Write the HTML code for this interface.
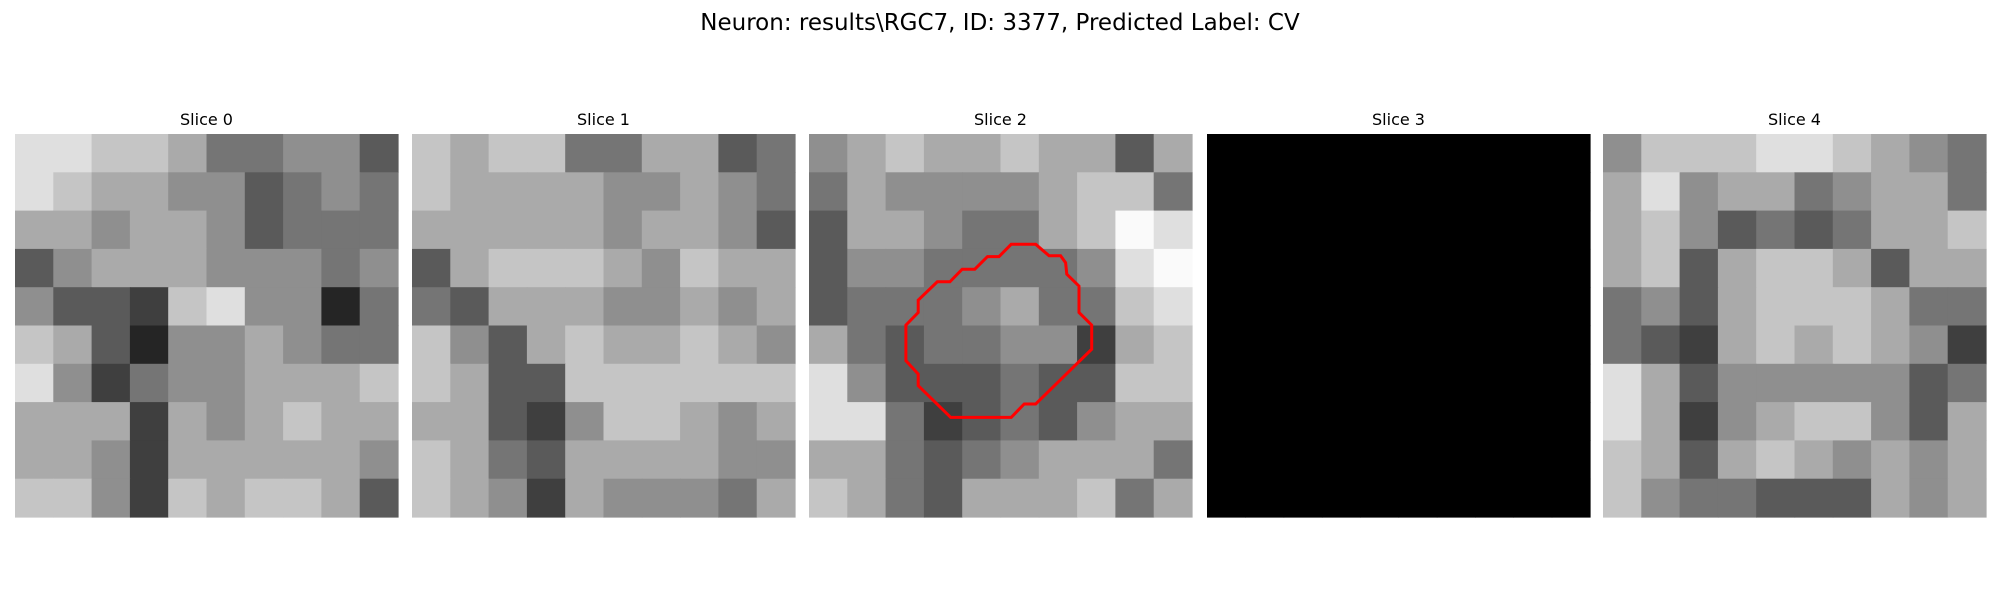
<!DOCTYPE html>
<html><head><meta charset="utf-8"><style>
body{margin:0;background:#fff;width:2000px;height:600px;overflow:hidden;font-family:"Liberation Sans","DejaVu Sans",sans-serif}
</style></head><body>
<svg id="fig" width="2000" height="600" xmlns="http://www.w3.org/2000/svg">
<text x="1000" y="30" text-anchor="middle" font-size="23" font-family="DejaVu Sans, Liberation Sans, sans-serif" fill="#000">Neuron: results\RGC7, ID: 3377, Predicted Label: CV</text>
</svg>
<script>
const sliceTitles = ["Slice 0","Slice 1","Slice 2","Slice 3","Slice 4"];
const slice0 = [
[8,8,7,7,6,4,4,5,5,3],[8,7,6,6,5,5,3,4,5,4],[6,6,5,6,6,5,3,4,4,4],[3,5,6,6,6,5,5,5,4,5],[5,3,3,2,7,8,5,5,1,4],
[7,6,3,1,5,5,6,5,4,4],[8,5,2,4,5,5,6,6,6,7],[6,6,6,2,6,5,6,7,6,6],[6,6,5,2,6,6,6,6,6,5],[7,7,5,2,7,6,7,7,6,3]];
const slice1 = [
[7,6,7,7,4,4,6,6,3,4],[7,6,6,6,6,5,5,6,5,4],[6,6,6,6,6,5,6,6,5,3],[3,6,7,7,7,6,5,7,6,6],[4,3,6,6,6,5,5,6,5,6],
[7,5,3,6,7,6,6,7,6,5],[7,6,3,3,7,7,7,7,7,7],[6,6,3,2,5,7,7,6,5,6],[7,6,4,3,6,6,6,6,5,5],[7,6,5,2,6,5,5,5,4,6]];
const slice2 = [
[5,6,7,6,6,7,6,6,3,6],[4,6,5,5,5,5,6,7,7,4],[3,6,6,5,4,4,6,7,9,8],[3,5,5,4,4,4,4,5,8,9],[3,4,4,4,5,6,4,4,7,8],
[6,4,3,4,4,5,5,2,6,7],[8,5,3,3,3,4,3,3,7,7],[8,8,4,2,3,4,3,5,6,6],[6,6,4,3,4,5,6,6,6,4],[7,6,4,3,6,6,6,7,4,6]];
const slice3 = [
[0,0,0,0,0,0,0,0,0,0],[0,0,0,0,0,0,0,0,0,0],[0,0,0,0,0,0,0,0,0,0],[0,0,0,0,0,0,0,0,0,0],[0,0,0,0,0,0,0,0,0,0],
[0,0,0,0,0,0,0,0,0,0],[0,0,0,0,0,0,0,0,0,0],[0,0,0,0,0,0,0,0,0,0],[0,0,0,0,0,0,0,0,0,0],[0,0,0,0,0,0,0,0,0,0]];
const slice4 = [
[5,7,7,7,8,8,7,6,5,4],[6,8,5,6,6,4,5,6,6,4],[6,7,5,3,4,3,4,6,6,7],[6,7,3,6,7,7,6,3,6,6],[4,5,3,6,7,7,7,6,4,4],
[4,3,2,6,7,6,7,6,5,2],[8,6,3,5,5,5,5,5,3,4],[8,6,2,5,6,7,7,5,3,6],[7,6,3,6,7,6,5,6,5,6],[7,5,4,4,3,3,3,6,5,6]];
const slices = [slice0,slice1,slice2,slice3,slice4];
// contour of predicted neuron on slice 2, in fraction of panel (0..1)
const contourX = [0.528,0.592,0.627,0.657,0.670,0.673,0.705,0.705,0.738,0.738,0.592,0.562,0.528,0.370,0.285,0.285,0.253,0.253,0.285,0.285,0.335,0.368,0.400,0.433,0.466,0.496];
const contourY = [0.288,0.288,0.318,0.318,0.336,0.366,0.397,0.466,0.499,0.562,0.705,0.705,0.740,0.740,0.657,0.627,0.592,0.499,0.466,0.434,0.386,0.386,0.353,0.353,0.320,0.320];

const svg = document.getElementById('fig');
const NS = 'http://www.w3.org/2000/svg';
const panelX = [15,412,809,1207,1603], panelY = 134, S = 383;
slices.forEach((grid, k) => {
  const g = document.createElementNS(NS,'g');
  
  
  svg.appendChild(g);
  const t = document.createElementNS(NS,'text');
  
  
  t.setAttribute('x', panelX[k] + S/2); t.setAttribute('y', 125);
  t.setAttribute('text-anchor','middle'); t.setAttribute('font-size','16');
  t.setAttribute('font-family','DejaVu Sans, Liberation Sans, sans-serif');
  t.textContent = sliceTitles[k];
  g.appendChild(t);
  const n = grid.length, c = S / n;
  grid.forEach((row, r) => row.forEach((v, j) => {
    const rc = document.createElementNS(NS,'rect');
    
    
    rc.setAttribute('x', panelX[k] + j*c); rc.setAttribute('y', panelY + r*c);
    rc.setAttribute('width', c + 0.6); rc.setAttribute('height', c + 0.6);
    const gv = Math.round(v/9*240 + (v>0?10:0));
    rc.setAttribute('fill', `rgb(${gv},${gv},${gv})`);
    g.appendChild(rc);
  }));
});
const pts = contourX.map((x,i) => (panelX[2] + x*S).toFixed(1) + ',' + (panelY + contourY[i]*S).toFixed(1)).join(' ');
const poly = document.createElementNS(NS,'polygon');


poly.setAttribute('points', pts);
poly.setAttribute('fill','none'); poly.setAttribute('stroke','#ff0000'); poly.setAttribute('stroke-width','3');
svg.appendChild(poly);
</script>
</body></html>
